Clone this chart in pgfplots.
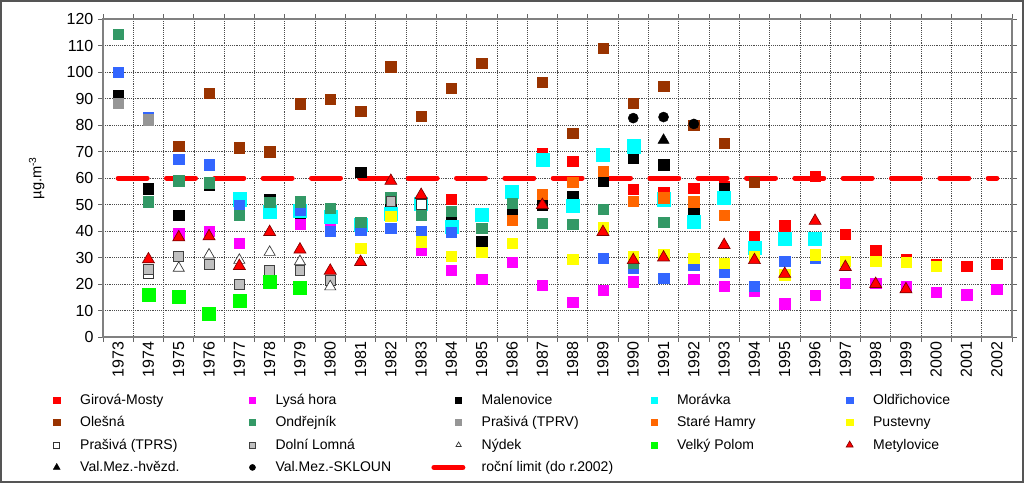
\documentclass[border=0pt]{standalone}
\usepackage{fontspec}
\setmainfont{Liberation Sans}
\usepackage{pgfplots}
\pgfplotsset{compat=1.18}
\definecolor{cGir}{HTML}{FF0000}
\definecolor{cLys}{HTML}{FF00FF}
\definecolor{cMal}{HTML}{000000}
\definecolor{cMor}{HTML}{00FFFF}
\definecolor{cOld}{HTML}{3366FF}
\definecolor{cOle}{HTML}{993300}
\definecolor{cOnd}{HTML}{339966}
\definecolor{cTPRV}{HTML}{969696}
\definecolor{cSH}{HTML}{FF6600}
\definecolor{cPus}{HTML}{FFFF00}
\definecolor{cDL}{HTML}{C0C0C0}
\definecolor{cVP}{HTML}{00FF00}
\definecolor{cMetB}{HTML}{800000}
\definecolor{cFrame}{HTML}{555555}
\newcommand{\lb}[1]{\makebox[124.9pt][l]{#1}}
\begin{document}
\fontsize{10.5}{12.6}\selectfont
\begin{tikzpicture}
\begin{axis}[name=ax, scale only axis, width=681.75pt, height=238.5pt,
 xmin=1972.5, xmax=2002.5, ymin=0, ymax=120,
 xtick={1972.5,1973.5,...,2002.5}, xticklabels={},
 extra x ticks={1973,1974,...,2002},
 extra x tick labels={1973,1974,1975,1976,1977,1978,1979,1980,1981,1982,1983,1984,1985,1986,1987,1988,1989,1990,1991,1992,1993,1994,1995,1996,1997,1998,1999,2000,2001,2002},
 extra x tick style={grid=none, major tick length=0pt, xticklabel style={rotate=90, anchor=east}},
 ytick={0,10,...,120},
 grid=major, grid style={densely dotted, black!70, line width=0.5pt},
 tick align=outside, major tick length=3.5pt,
 tick style={black!60, line width=0.6pt},
 axis line style={black!50, line width=0.8pt},
 tick label style={font=\fontsize{12}{14}\selectfont},
 /pgf/number format/assume math mode=true,
 /pgf/number format/1000 sep={},
 ylabel={µg.m\textsuperscript{-3}},
 ylabel style={at={(axis description cs:-0.073,0.5)}, anchor=center, font=\fontsize{11}{13}\selectfont},
 legend columns=5,
 legend cell align=left,
 legend style={at={(axis description cs:-0.055,-0.170)}, anchor=north west, draw=none, fill=none, inner sep=0pt, row sep=3.5pt, font=\fontsize{10.5}{12.6}\selectfont, /tikz/every odd column/.append style={column sep=13pt}},
 legend image post style={mark size=2.3pt},
]
% Girova-Mosty
\addplot[only marks, mark=square*, mark size=3.9pt, draw=cGir, fill=cGir, line width=0.3pt] coordinates {
(1984,52) (1986,48.5) (1987,69.3) (1988,66.4) (1990,55.8) (1991,54.5) (1992,56.2) (1993,57) (1994,38) (1995,42) (1996,60.7) (1997,38.9) (1998,32.5) (1999,29.3) (2000,27.3) (2001,26.7) (2002,27.5)};
\addlegendentry{\lb{Girová-Mosty}}
% Lysa hora
\addplot[only marks, mark=square*, mark size=3.9pt, draw=cLys, fill=cLys, line width=0.3pt] coordinates {
(1975,39) (1976,40) (1977,35.5) (1979,42.7) (1980,40.8) (1983,33) (1984,25.3) (1985,21.8) (1986,28.3) (1987,19.6) (1988,13.2) (1989,17.7) (1990,20.8) (1992,21.9) (1993,19.2) (1994,17.4) (1995,12.5) (1996,15.8) (1997,20.4) (1998,20.4) (1999,19) (2000,17) (2001,15.9) (2002,18)};
\addlegendentry{\lb{Lysá hora}}
% Malenovice
\addplot[only marks, mark=square*, mark size=3.9pt, draw=cMal, fill=cMal, line width=0.3pt] coordinates {
(1973,91.1) (1974,56) (1975,46) (1976,57.5) (1978,51.8) (1979,46.8) (1981,62.3) (1982,49) (1984,44.5) (1985,36.2) (1986,47) (1987,49.8) (1988,53.2) (1989,59) (1990,67.5) (1991,65) (1992,46.5) (1993,56)};
\addlegendentry{\lb{Malenovice}}
% Moravka
\addplot[only marks, mark=square*, mark size=4.9pt, draw=cMor, fill=cMor, line width=0.3pt] coordinates {
(1977,52) (1978,47.3) (1979,47.5) (1980,45.3) (1981,42.5) (1982,46.5) (1983,50.3) (1984,41.5) (1985,46) (1986,55) (1987,66.8) (1988,49.4) (1989,68.7) (1990,72) (1991,52) (1992,43.4) (1993,52.5) (1994,33.6) (1995,37) (1996,37)};
\addlegendentry{\lb{Morávka}}
% Oldrichovice
\addplot[only marks, mark=square*, mark size=3.9pt, draw=cOld, fill=cOld, line width=0.3pt] coordinates {
(1973,100) (1974,82.8) (1975,67) (1976,65) (1977,49.5) (1979,48) (1980,40) (1981,40.5) (1982,41) (1983,40) (1984,39.6) (1989,29.8) (1990,26) (1991,22.3) (1992,27) (1993,24.5) (1994,19.2) (1995,28.7) (1996,29.8)};
\addlegendentry{Oldřichovice}
% Olesna
\addplot[only marks, mark=square*, mark size=3.9pt, draw=cOle, fill=cOle, line width=0.3pt] coordinates {
(1975,72) (1976,92) (1977,71.5) (1978,70) (1979,88) (1980,89.8) (1981,85.3) (1982,102) (1983,83.4) (1984,94) (1985,103.4) (1987,96.2) (1988,77) (1989,109) (1990,88.3) (1991,94.7) (1992,80) (1993,73.2) (1994,58.5)};
\addlegendentry{\lb{Olešná}}
% Ondrejnik
\addplot[only marks, mark=square*, mark size=3.9pt, draw=cOnd, fill=cOnd, line width=0.3pt] coordinates {
(1973,114.3) (1974,51) (1975,59) (1976,58.2) (1977,46) (1978,50.8) (1979,51) (1980,48.7) (1981,43.4) (1982,52.5) (1983,46) (1984,47.5) (1985,41) (1986,50.5) (1987,43) (1988,42.6) (1989,48.3) (1990,28) (1991,43.4)};
\addlegendentry{\lb{Ondřejník}}
% Prasiva TPRV
\addplot[only marks, mark=square*, mark size=3.9pt, draw=cTPRV, fill=cTPRV, line width=0.3pt] coordinates {
(1973,88.3) (1974,82)};
\addlegendentry{\lb{Prašivá (TPRV)}}
% Stare Hamry
\addplot[only marks, mark=square*, mark size=3.9pt, draw=cSH, fill=cSH, line width=0.3pt] coordinates {
(1986,44) (1987,54) (1988,58.5) (1989,62.6) (1990,51.3) (1991,52.5) (1992,51) (1993,46)};
\addlegendentry{\lb{Staré Hamry}}
% Pustevny
\addplot[only marks, mark=square*, mark size=3.9pt, draw=cPus, fill=cPus, line width=0.3pt] coordinates {
(1981,33.6) (1982,45.7) (1983,36) (1984,30.5) (1985,32) (1986,35.5) (1988,29.4) (1989,41.3) (1990,30.5) (1991,31.3) (1992,29.8) (1993,27.9) (1994,30.5) (1995,23.5) (1996,31) (1997,28.7) (1998,28.7) (1999,28.3) (2000,26.8)};
\addlegendentry{Pustevny}
% Prasiva TPRS
\addplot[only marks, mark=square*, mark size=3.6pt, draw=black!80, fill=white, line width=0.6pt] coordinates {
(1974,23.8) (1983,50)};
\addlegendentry{\lb{Prašivá (TPRS)}}
% Dolni Lomna
\addplot[only marks, mark=square*, mark size=3.7pt, draw=black!75, fill=cDL, line width=0.6pt] coordinates {
(1974,25.6) (1975,30.5) (1976,27.5) (1977,20) (1978,25) (1979,25) (1980,21.5) (1982,51.3)};
\addlegendentry{\lb{Dolní Lomná}}
% Nydek
\addplot[only marks, mark=triangle*, mark size=4.8pt, draw=black!80, fill=white, line width=0.5pt] coordinates {
(1975,26) (1976,31) (1977,29) (1978,32) (1979,28.5) (1980,19)};
\addlegendentry{\lb{Nýdek}}
% Velky Polom
\addplot[only marks, mark=square*, mark size=4.9pt, draw=cVP, fill=cVP, line width=0.3pt] coordinates {
(1974,15.8) (1975,15.1) (1976,8.7) (1977,13.6) (1978,21) (1979,18.5)};
\addlegendentry{\lb{Velký Polom}}
% Metylovice
\addplot[only marks, mark=triangle*, mark size=5.2pt, draw=cMetB, fill=cGir, line width=0.5pt, legend image post style={mark size=3pt}] coordinates {
(1974,29.3) (1975,37.6) (1976,38) (1977,26.8) (1978,39.6) (1979,33) (1980,25) (1981,28.3) (1982,58.9) (1983,53.6) (1987,49.8) (1989,39.6) (1990,29) (1991,30) (1993,34.7) (1994,29) (1995,23.8) (1996,43.8) (1997,26.4) (1998,20) (1999,18)};
\addlegendentry{Metylovice}
% Val.Mez.-hvezd.
\addplot[only marks, mark=triangle*, mark size=4.8pt, draw=black, fill=black, line width=0.3pt, legend image post style={mark size=3pt}] coordinates {
(1991,74.3)};
\addlegendentry{\lb{Val.Mez.-hvězd.}}
% Val.Mez.-SKLOUN
\addplot[only marks, mark=*, mark size=3.8pt, draw=black, fill=black, line width=0.3pt] coordinates {
(1990,82.6) (1991,83) (1992,80.4)};
\addlegendentry{\lb{Val.Mez.-SKLOUN}}
% limit
\addplot[no marks, draw=cGir, line width=3.75pt, line cap=round, dash pattern=on 21.75pt off 14.5pt,
 legend image code/.code={\draw[cGir, line width=3.75pt, overlay] (-10pt,0pt) -- (16pt,0pt); \path (0pt,0pt) (6pt,0pt);}] coordinates {
(1973,60) (2002,60)};
\addlegendentry{roční limit (do r.2002)}
\end{axis}
\draw[cFrame, line width=1.2pt] ([xshift=-76.65pt,yshift=-108.9pt]ax.south west) rectangle ([xshift=8.4pt,yshift=13.65pt]ax.north east);
\end{tikzpicture}
\end{document}
